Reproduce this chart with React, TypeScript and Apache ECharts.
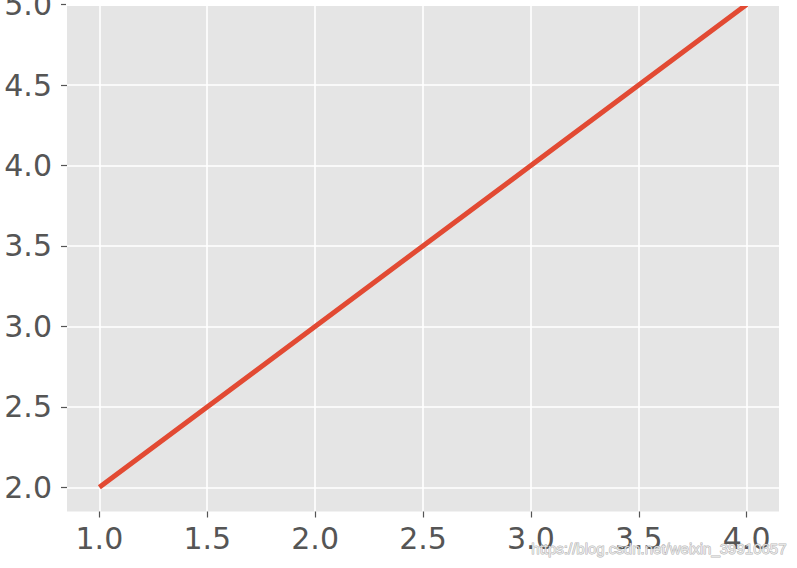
import React, { useEffect, useRef } from "react";
import * as echarts from "echarts";

const xValues = [1.0, 2.0, 3.0, 4.0];
const yValues = [2.0, 3.0, 4.0, 5.0];
const xTicks = [1.0, 1.5, 2.0, 2.5, 3.0, 3.5, 4.0];
const yTicks = [2.0, 2.5, 3.0, 3.5, 4.0, 4.5, 5.0];
const watermark = "https://blog.csdn.net/weixin_39910657";

export default function App() {
  const ref = useRef<HTMLDivElement>(null);
  useEffect(() => {
    if (!ref.current) return;
    const chart = echarts.init(ref.current, null, { renderer: "svg" });
    const labelStyle = {
      color: "#555555",
      fontFamily: "DejaVu Sans",
      fontSize: 30,
      formatter: (v: number) => v.toFixed(1),
    };
    chart.setOption({
      animation: false,
      backgroundColor: "#ffffff",
      grid: {
        left: 67,
        right: 18,
        top: -19.6,
        bottom: 56.5,
        outerBoundsMode: "none",
        containLabel: false,
        show: true,
        backgroundColor: "#E5E5E5",
        borderWidth: 0,
      },
      xAxis: {
        type: "value",
        min: 0.85,
        max: 4.15,
        axisLine: { show: false },
        axisTick: {
          show: true,
          length: 6,
          customValues: xTicks,
          lineStyle: { color: "#555555", width: 1.2 },
        },
        axisLabel: { ...labelStyle, margin: 12, customValues: xTicks },
        splitLine: { show: true, lineStyle: { color: "#ffffff", width: 1.6 } },
      },
      yAxis: {
        type: "value",
        min: 1.85,
        max: 5.15,
        axisLine: { show: false },
        axisTick: {
          show: true,
          length: 6,
          customValues: yTicks,
          lineStyle: { color: "#555555", width: 1.2 },
        },
        axisLabel: { ...labelStyle, margin: 15, customValues: yTicks },
        splitLine: { show: true, lineStyle: { color: "#ffffff", width: 1.6 } },
      },
      series: [
        {
          type: "line",
          data: xValues.map((x, i) => [x, yValues[i]]),
          showSymbol: false,
          lineStyle: { color: "#E24A33", width: 5 },
          z: 5,
        },
      ],
      graphic: [
        {
          type: "rect",
          shape: { x: 66, y: 0, width: 716, height: 6 },
          style: { fill: "#ffffff" },
          z: 100,
        },
        {
          type: "text",
          right: 10,
          top: 540,
          style: {
            text: watermark,
            font: "15px 'Liberation Sans', Arial, sans-serif",
            fill: "rgba(240,240,240,0.85)",
            stroke: "rgba(110,110,110,0.55)",
            lineWidth: 1,
          },
          z: 100,
        },
      ],
    });
    return () => chart.dispose();
  }, []);
  return (
    <div
      ref={ref}
      style={{ position: "fixed", left: 0, top: 0, width: 797, height: 568 }}
    />
  );
}
